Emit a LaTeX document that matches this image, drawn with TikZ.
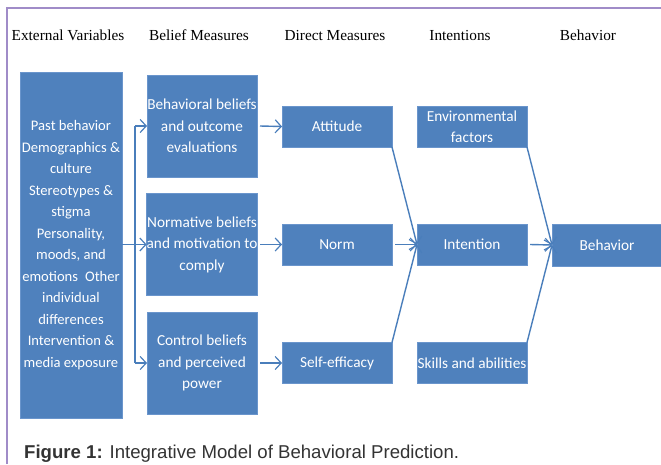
\documentclass[tikz,border=0pt]{standalone}
\usepackage{fontspec}
\setmainfont{Liberation Serif}
\newfontfamily\boxfont{Carlito}
\newfontfamily\capfont{Liberation Sans}
\usepackage{xcolor}
\usetikzlibrary{
    arrows.meta,
    positioning
}
\definecolor{boxblue}{HTML}{4F81BD}
\definecolor{boxedge}{HTML}{6A95CC}
\definecolor{linkblue}{HTML}{4A7EBB}
\definecolor{framepurple}{HTML}{A08CC8}
\definecolor{capgray}{HTML}{333333}

\tikzset{
    stage/.style={fill=boxblue, draw=boxedge, line width=0.8pt, text=white,
        font=\boxfont\fontsize{15.3}{21.5}\selectfont, align=center,
        inner sep=0pt, outer sep=0pt},
    heading/.style={font=\fontsize{15.3}{18}\selectfont, anchor=base},
    flow/.style={draw=linkblue, line width=1.4pt,
        -{Straight Barb[length=6pt, width=13pt, line width=1.2pt]}},
    link/.style={draw=linkblue, line width=1.4pt}
}

\begin{document}
\begin{tikzpicture}[x=1pt, y=-1pt]
    \useasboundingbox (0, 0) rectangle (661, 464);
    \draw[framepurple, line width=1.2pt] (7, 464) -- (7, 8) -- (661, 8);

    % column headings
    \node[heading] (hext) at (68, 40) {External Variables};
    \node[heading] (hbel) at (199, 40) {Belief Measures};
    \node[heading] (hdir) at (335, 40) {Direct Measures};
    \node[heading] (hint) at (460, 40) {Intentions};
    \node[heading] (hbeh) at (588, 40) {Behavior};

    % external variables
    \node[stage, font=\boxfont\fontsize{14.6}{21.5}\selectfont, minimum width=102pt, minimum height=346pt] (ext) at (71, 245)
        {Past behavior\\Demographics \&\\culture\\Stereotypes \&\\stigma\\Personality,\\moods, and\\emotions\hspace{7pt}Other\\individual\\differences\\Intervention \&\\media exposure};

    % belief measures
    \node[stage, minimum width=110pt, minimum height=102pt] (bhv) at (202, 126) {Behavioral beliefs\\and outcome\\evaluations};
    \node[stage, minimum width=110pt, minimum height=102pt] (nrm) at (202, 244.5) {Normative beliefs\\and motivation to\\comply};
    \node[stage, minimum width=110pt, minimum height=102pt] (ctl) at (202, 363) {Control beliefs\\and perceived\\power};

    % direct measures
    \node[stage, minimum width=110pt, minimum height=41pt] (att) at (337, 126.5) {Attitude};
    \node[stage, minimum width=110pt, minimum height=41pt] (norm) at (337, 244.5) {Norm};
    \node[stage, minimum width=110pt, minimum height=41pt] (eff) at (337, 363) {Self-efficacy};

    % intentions
    \node[stage, minimum width=110pt, minimum height=41pt] (env) at (472, 126.5) {Environmental\\factors};
    \node[stage, minimum width=110pt, minimum height=41pt] (int) at (472, 244.5) {Intention};
    \node[stage, minimum width=110pt, minimum height=41pt] (skl) at (472, 363) {Skills and abilities};

    % behavior
    \node[stage, minimum width=110pt, minimum height=42pt] (beh) at (607, 245) {Behavior};

    % fork into the belief measures
    \coordinate (fork) at (135, 244.5);
    \draw[link] (fork |- bhv.west) -- (fork |- ctl.west);
    \draw[flow] (ext.east |- nrm.west) -- (nrm.west);
    \draw[flow] (fork |- bhv.west) -- (bhv.west);
    \draw[flow] (fork |- ctl.west) -- (ctl.west);

    \draw[flow] ([xshift=3pt]bhv.east) -- (att.west);
    \draw[flow] ([xshift=3pt]nrm.east) -- (norm.west);
    \draw[flow] ([xshift=3pt]ctl.east) -- (eff.west);

    \draw[flow] (att.south east) -- (int.west);
    \draw[flow] ([xshift=3pt]norm.east) -- (int.west);
    \draw[flow] (eff.north east) -- (int.west);

    \draw[flow] (env.south east) -- (beh.west);
    \draw[flow] ([xshift=3pt]int.east) -- (beh.west);
    \draw[flow] (skl.north east) -- (beh.west);

    \node[anchor=base west, inner sep=0pt, text=capgray, font=\capfont\fontsize{18.6}{21}\selectfont] (cap) at (24, 458)
        {\textbf{Figure 1:} Integrative Model of Behavioral Prediction.};
\end{tikzpicture}
\end{document}
